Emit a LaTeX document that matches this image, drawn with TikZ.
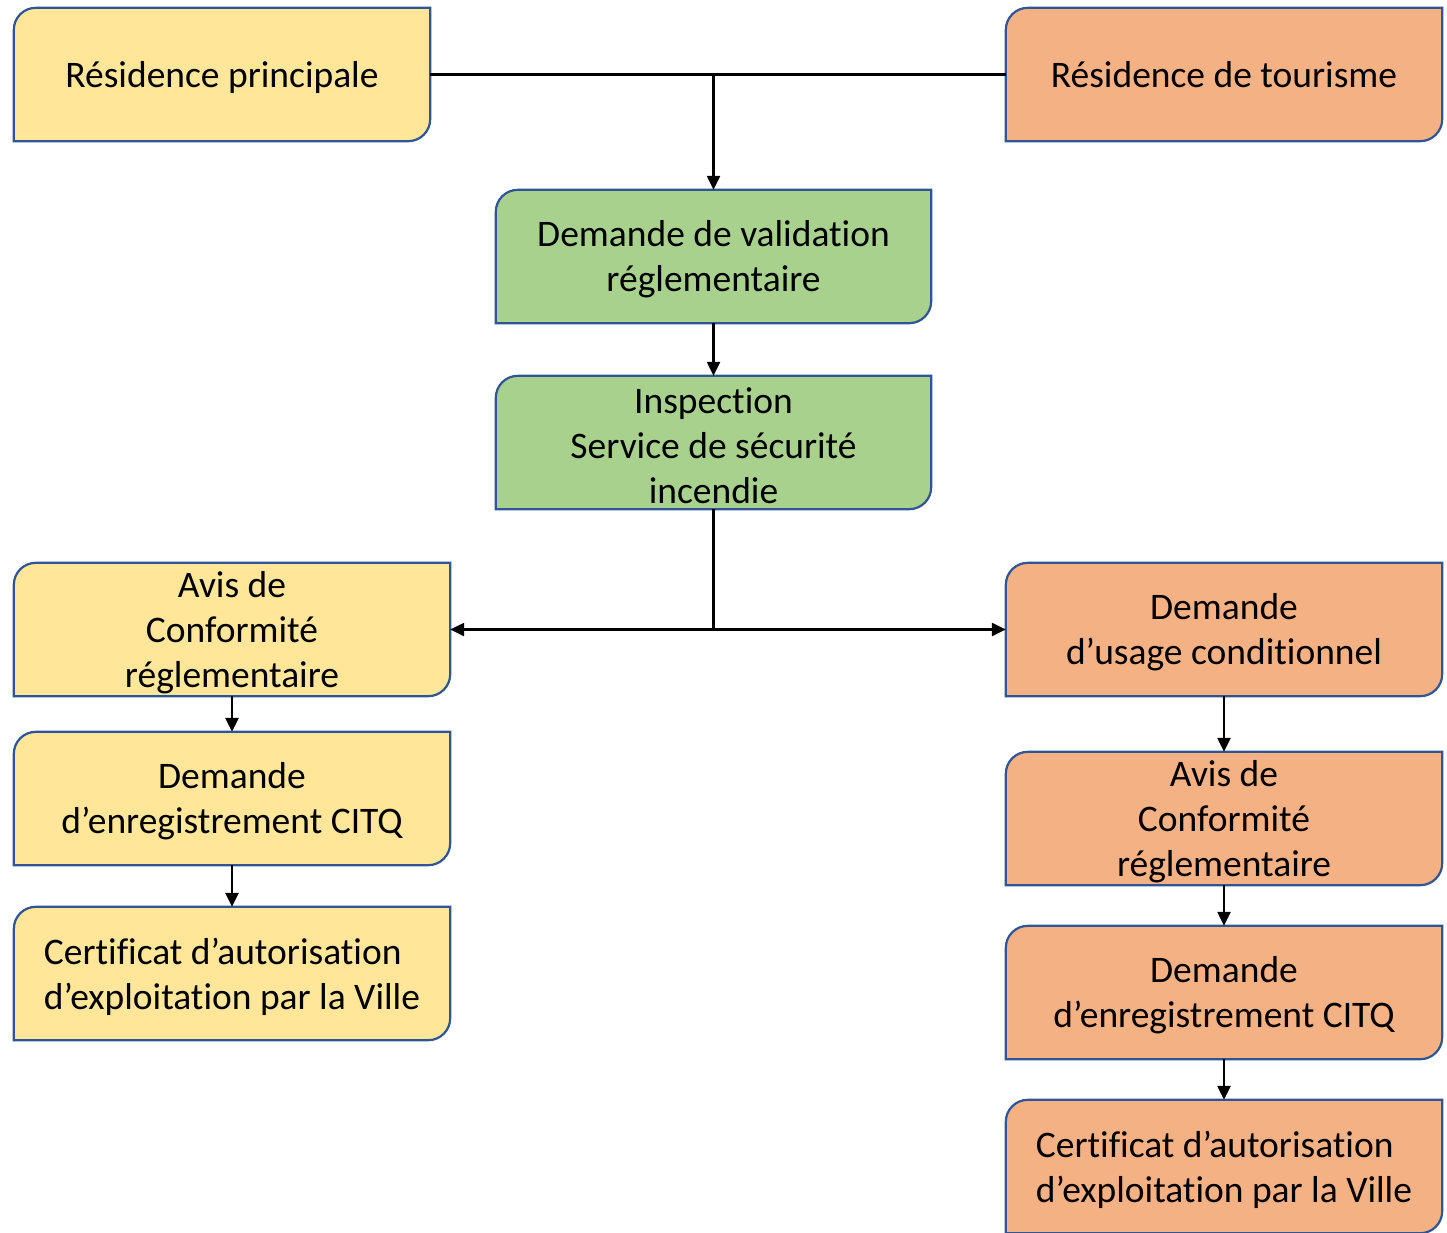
\documentclass[tikz,border=0pt]{standalone}
\usepackage{fontspec}
\setmainfont{Carlito}[Ligatures={NoCommon,NoRequired,NoContextual}]
\usetikzlibrary{arrows.meta,backgrounds}
\definecolor{yel}{HTML}{FFE699}
\definecolor{ora}{HTML}{F4B183}
\definecolor{grn}{HTML}{A9D18E}
\definecolor{bord}{HTML}{2F5597}
\tikzset{
  box/.style={minimum height=133pt, inner sep=0pt},
  narrow/.style={box, minimum width=416pt},
  wide/.style={box, minimum width=436pt},
  txt/.style={inner sep=0pt, align=center, yshift=-3pt, font=\fontsize{37.5}{45}\selectfont},
  boxline/.style={draw=bord, line width=2.2pt},
  conn/.style={line width=2.4pt, draw=black},
  arr/.style={conn, -{Triangle[length=14pt,width=13pt]}},
}
\newcommand{\diagshape}[2]{%
  \path[boxline, fill=#2] (#1.south west) -- ([yshift=-22pt]#1.north west)
    arc[start angle=180, end angle=90, radius=22pt] -- (#1.north east)
    -- ([yshift=22pt]#1.south east) arc[start angle=0, end angle=-90, radius=22pt] -- cycle;}
\begin{document}
\begin{tikzpicture}[x=1pt,y=-1pt]
\useasboundingbox (0,0) rectangle (1447,1232);
\node[narrow] (rp) at (222,74.5) {};
\node[wide] (rt) at (1224,74.5) {};
\node[box, minimum width=435pt] (dv) at (713.5,256.5) {};
\node[box, minimum width=435pt] (insp) at (713.5,442.5) {};
\node[wide] (la) at (232,629.5) {};
\node[wide] (lc) at (232,798.5) {};
\node[wide] (lcert) at (232,973.5) {};
\node[wide] (ru) at (1224,629.5) {};
\node[wide] (ra) at (1224,818.5) {};
\node[wide] (rc) at (1224,992.5) {};
\node[wide] (rcert) at (1224,1166.5) {};
\begin{scope}[on background layer]
\diagshape{rp}{yel}
\diagshape{rt}{ora}
\diagshape{dv}{grn}
\diagshape{insp}{grn}
\diagshape{la}{yel}
\diagshape{lc}{yel}
\diagshape{lcert}{yel}
\diagshape{ru}{ora}
\diagshape{ra}{ora}
\diagshape{rc}{ora}
\diagshape{rcert}{ora}
\end{scope}
\node[txt] (rp-t) at (rp) {Résidence principale};
\node[txt] (rt-t) at (rt) {Résidence de tourisme\vphantom{p}};
\node[txt] (dv-t) at (dv) {Demande de validation\\réglementaire};
\node[txt] (insp-t) at (insp) {Inspection\\Service de sécurité\\incendie};
\node[txt] (la-t) at (la) {Avis de\\Conformité\\réglementaire};
\node[txt] (lc-t) at (lc) {Demande\\d’enregistrement CITQ};
\node[txt, align=left] (lcert-t) at (lcert) {Certificat d’autorisation\\d’exploitation par la Ville};
\node[txt] (ru-t) at (ru) {Demande\\d’usage conditionnel};
\node[txt] (ra-t) at (ra) {Avis de\\Conformité\\réglementaire};
\node[txt] (rc-t) at (rc) {Demande\\d’enregistrement CITQ};
\node[txt, align=left] (rcert-t) at (rcert) {Certificat d’autorisation\\d’exploitation par la Ville};
\coordinate (j1) at (713.5,74.5);
\coordinate (j2) at (713.5,629.5);
\draw[conn] (rp.east) -- (rt.west);
\draw[arr] (j1) -- (dv.north);
\draw[arr] (dv.south) -- (insp.north);
\draw[conn] (insp.south) -- (j2);
\draw[arr] (j2) -- (la.east);
\draw[arr] (j2) -- (ru.west);
\draw[arr] (la.south) -- (lc.north);
\draw[arr] (lc.south) -- (lcert.north);
\draw[arr] (ru.south) -- (ra.north);
\draw[arr] (ra.south) -- (rc.north);
\draw[arr] (rc.south) -- (rcert.north);
\end{tikzpicture}
\end{document}
